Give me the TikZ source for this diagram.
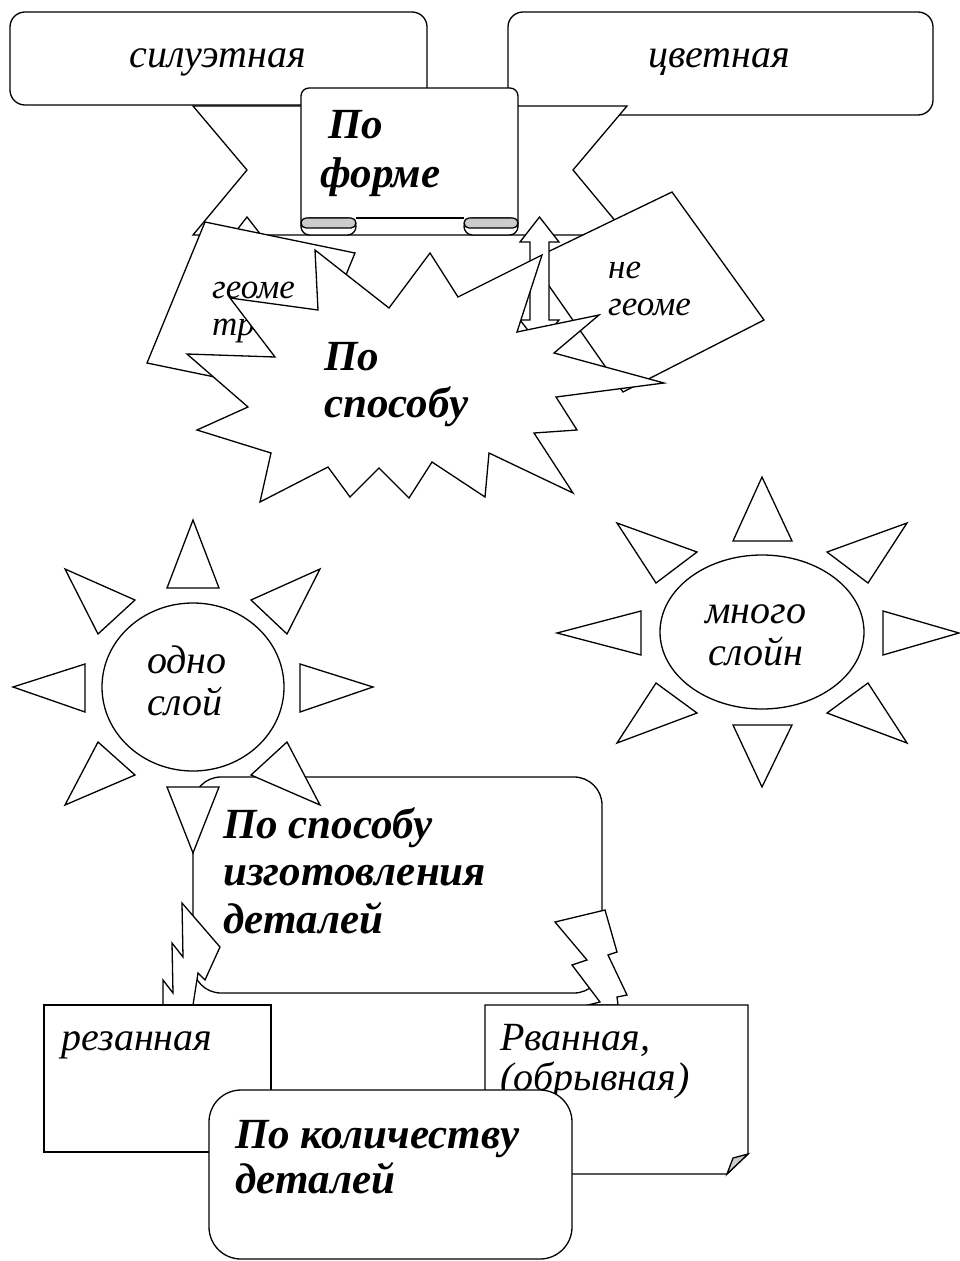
\documentclass[tikz,border=0pt]{standalone}
\usepackage{fontspec}
\setmainfont{Liberation Serif}
\newcommand\lblfont{\fontsize{40}{46}\selectfont\itshape}
\newcommand\smlfont{\fontsize{35}{40}\selectfont\itshape}
\newcommand\bldfont{\fontsize{43}{48}\selectfont\bfseries\itshape}
\begin{document}
\begin{tikzpicture}[x=1pt,y=-1pt,
  shp/.style={draw=black,fill=white,line width=1.3pt,line join=miter},
  lbl/.style={font=\lblfont,inner sep=0pt,anchor=base west},
  sml/.style={font=\smlfont,inner sep=0pt,anchor=base west},
  bld/.style={font=\bldfont,inner sep=0pt,anchor=base west}]
\useasboundingbox (0,0) rectangle (960,1261);
\fill[white] (0,0) rectangle (960,1261);
% top boxes
\draw[shp,rounded corners=15] (10,12) rectangle (427,105);
\node[font=\lblfont,inner sep=0pt,anchor=base] (sil) at (218,67) {силуэтная};
\draw[shp,rounded corners=15] (508,12) rectangle (933,115);
\node[font=\lblfont,inner sep=0pt,anchor=base] (cvet) at (719,67) {цветная};
% ribbon
\draw[shp] (193,106) -- (627,106) -- (573,170) -- (627,235) -- (193,235) -- (247,170) -- cycle;
% scroll
\fill[white] (301,88) rectangle (518,218);
\draw[line width=1.3pt,rounded corners=8] (301,226) -- (301,88) -- (518,88) -- (518,226);
\draw[line width=1.3pt] (356,218) -- (464,218);
\draw[shp,rounded corners=8.5] (301,218) rectangle (356,235);
\draw[shp,fill=gray!40,rounded corners=5] (301,218) rectangle (356,228);
\draw[shp,rounded corners=8.5] (464,218) rectangle (518,235);
\draw[shp,fill=gray!40,rounded corners=5] (464,218) rectangle (518,228);
\node[bld] (forma1) at (328,138) {По};
\node[bld] (forma2) at (320,187) {форме};
% left hidden arrow
\draw[shp] (247,217) -- (266.5,242) -- (256.5,242) -- (256.5,320) -- (266.5,320) -- (247,345) -- (227.5,320) -- (237.5,320) -- (237.5,242) -- (227.5,242) -- cycle;
% left rotated box
\draw[shp] (205,222) -- (355,253) -- (297,394) -- (147,363) -- cycle;
\node[sml] (geo1) at (212,298) {геоме};
\node[sml] (geo2) at (212,335) {тр};
% right rotated box
\draw[shp] (531,260) -- (672,192) -- (764,320) -- (623,392) -- cycle;
\node[sml] (ng1) at (608,278) {не};
\node[sml] (ng2) at (608,315) {геоме};
% right up-down arrow
\draw[shp] (539.5,217) -- (559,242) -- (549,242) -- (549,320) -- (559,320) -- (539.5,345) -- (520,320) -- (530,320) -- (530,242) -- (520,242) -- cycle;
% star
\draw[shp] (315,250) -- (389,308) -- (430,253) -- (458,297) -- (542,255) -- (517,332) -- (599,315) -- (554,353) -- (664,383) -- (556,397) -- (577,430) -- (534,433) -- (573,493) -- (489,453) -- (485,497) -- (432,462) -- (409,498) -- (379,468) -- (350,497) -- (328,467) -- (260,502) -- (271,453) -- (197,430) -- (248,407) -- (187,354) -- (275,357) -- (230,298) -- (318,310) -- cycle;
\node[bld] (sp1) at (324,370) {По};
\node[bld] (sp2) at (324,417) {способу};
% method box
\draw[shp,rounded corners=28] (193,777) rectangle (602,993);
\node[bld] (iz1) at (223,838) {По способу};
\node[bld] (iz2) at (223,885) {изготовления};
\node[bld] (iz3) at (223,933) {деталей};
% left sun
\draw[shp] (193,687) ellipse [x radius=91,y radius=84];
\node[lbl] (od1) at (147,673) {одно};
\node[lbl] (od2) at (147,715) {слой};
\draw[shp] (193,520) -- (219,588) -- (167,588) -- cycle;
\draw[shp] (193,853) -- (219,787) -- (167,787) -- cycle;
\draw[shp] (13,687) -- (85,664) -- (85,712) -- cycle;
\draw[shp] (373,687) -- (300,664) -- (300,712) -- cycle;
\draw[shp] (65,569) -- (135,600) -- (98,634) -- cycle;
\draw[shp] (320,569) -- (251,600) -- (287,634) -- cycle;
\draw[shp] (65,805) -- (135,775) -- (98,742) -- cycle;
\draw[shp] (320,805) -- (251,775) -- (287,742) -- cycle;
% right sun
\draw[shp] (762,632) ellipse [x radius=102,y radius=77];
\node[lbl] (mn1) at (705,623) {много};
\node[lbl] (mn2) at (708,665) {слойн};
\draw[shp] (762,477) -- (792,541) -- (733,541) -- cycle;
\draw[shp] (762,787) -- (792,725) -- (733,725) -- cycle;
\draw[shp] (557,633) -- (641,611) -- (641,655) -- cycle;
\draw[shp] (959,633) -- (883,611) -- (883,655) -- cycle;
\draw[shp] (617,523) -- (697,552) -- (656,583) -- cycle;
\draw[shp] (907,523) -- (827,552) -- (868,583) -- cycle;
\draw[shp] (617,743) -- (697,713) -- (656,683) -- cycle;
\draw[shp] (907,743) -- (827,713) -- (868,683) -- cycle;
% bolts
\draw[shp] (182,903) -- (220,947) -- (205,980) -- (198,973) -- (193,1005) -- (163,1005) -- (163,980) -- (173,993) -- (172,943) -- (183,957) -- cycle;
\draw[shp] (555,922) -- (605,910) -- (617,952) -- (608,955) -- (627,995) -- (617,997) -- (618,1005) -- (588,1005) -- (600,1002) -- (572,965) -- (587,960) -- cycle;
% bottom boxes
\draw[shp] (44,1005) rectangle (271,1152);
\node[lbl] (rez) at (61,1050) {резанная};
\draw[shp] (485,1005) -- (748,1005) -- (748,1154) -- (727,1174) -- (485,1174) -- cycle;
\draw[shp,fill=gray!40] (748,1154) -- (727,1174) -- (733,1158) -- cycle;
\node[lbl] (rv1) at (500,1050) {Рванная,};
\node[lbl] (rv2) at (500,1090) {(обрывная)};
\draw[shp,rounded corners=32] (209,1090) rectangle (572,1259);
\node[bld] (kol1) at (235,1148) {По количеству};
\node[bld] (kol2) at (235,1193) {деталей};
\end{tikzpicture}
\end{document}
